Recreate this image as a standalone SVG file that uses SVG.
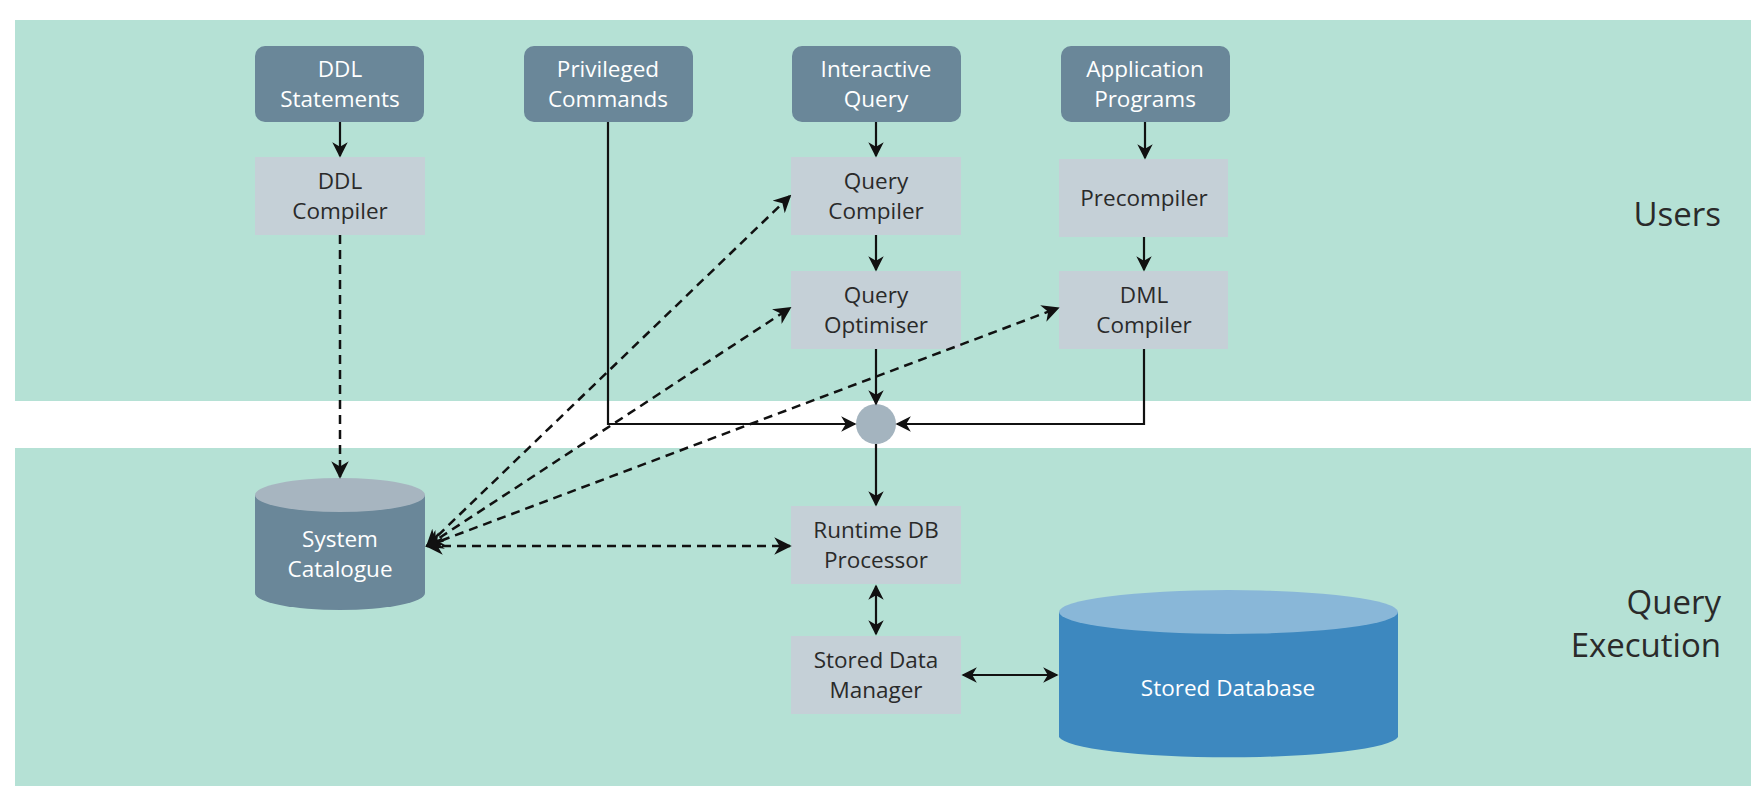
<svg xmlns="http://www.w3.org/2000/svg" width="1755" height="804" viewBox="0 0 1755 804">
<defs>
<marker id="a" viewBox="0 0 10 10" refX="9" refY="5" markerWidth="7" markerHeight="7" orient="auto-start-reverse"><path d="M0,0 L10,5 L0,10 L3,5 z" fill="#111"/></marker>
<style>
.t{font-family:"Open Sans","Noto Sans",sans-serif;font-size:22.5px;text-anchor:middle}
.w{fill:#fff}.k{fill:#2a2a2a}
.dk{fill:#6a8799}.lt{fill:#c5d0d7}
.c{fill:none;stroke:#111;stroke-width:2.2;marker-end:url(#a)}
.d{stroke-dasharray:9,6;stroke-width:2.5}
.b{marker-start:url(#a)}
.big{font-family:"Open Sans","Noto Sans",sans-serif;font-size:33px;fill:#2a2a2a;text-anchor:end}
</style>
</defs>
<rect width="1755" height="804" fill="#fff"/>
<rect x="15" y="20" width="1736" height="381" fill="#b5e1d5"/>
<rect x="15" y="448" width="1736" height="338" fill="#b5e1d5"/>
<text class="big" x="1721" y="226">Users</text>
<text class="big" x="1721" y="614">Query</text>
<text class="big" x="1721" y="657">Execution</text>
<g id="ddlstmt"><rect class="dk" x="255" y="46" width="169" height="76" rx="10"/><text class="t w" x="340" y="77">DDL</text><text class="t w" x="340" y="107">Statements</text></g>
<g id="priv"><rect class="dk" x="524" y="46" width="169" height="76" rx="10"/><text class="t w" x="608" y="77">Privileged</text><text class="t w" x="608" y="107">Commands</text></g>
<g id="inter"><rect class="dk" x="792" y="46" width="169" height="76" rx="10"/><text class="t w" x="876" y="77">Interactive</text><text class="t w" x="876" y="107">Query</text></g>
<g id="app"><rect class="dk" x="1061" y="46" width="169" height="76" rx="10"/><text class="t w" x="1145" y="77">Application</text><text class="t w" x="1145" y="107">Programs</text></g>
<g id="ddlc"><rect class="lt" x="255" y="157" width="170" height="78"/><text class="t k" x="340" y="189">DDL</text><text class="t k" x="340" y="219">Compiler</text></g>
<g id="qc"><rect class="lt" x="791" y="157" width="170" height="78"/><text class="t k" x="876" y="189">Query</text><text class="t k" x="876" y="219">Compiler</text></g>
<g id="pre"><rect class="lt" x="1059" y="159" width="169" height="78"/><text class="t k" x="1144" y="206">Precompiler</text></g>
<g id="qo"><rect class="lt" x="791" y="271" width="170" height="78"/><text class="t k" x="876" y="303">Query</text><text class="t k" x="876" y="333">Optimiser</text></g>
<g id="dml"><rect class="lt" x="1059" y="271" width="169" height="78"/><text class="t k" x="1144" y="303">DML</text><text class="t k" x="1144" y="333">Compiler</text></g>
<g id="join"><circle cx="876" cy="424" r="20" fill="#a4b4bf"/></g>
<g id="rt"><rect class="lt" x="791" y="506" width="170" height="78"/><text class="t k" x="876" y="538">Runtime DB</text><text class="t k" x="876" y="568">Processor</text></g>
<g id="sdm"><rect class="lt" x="791" y="636" width="170" height="78"/><text class="t k" x="876" y="668">Stored Data</text><text class="t k" x="876" y="698">Manager</text></g>
<g id="cat"><path d="M255,495 V593 A85,17 0 0 0 425,593 V495 z" fill="#6a8799"/><ellipse cx="340" cy="495" rx="85" ry="17" fill="#a7b5c0"/><text class="t w" x="340" y="547">System</text><text class="t w" x="340" y="577">Catalogue</text></g>
<g id="db"><path d="M1059,612 V737 A170,22 0 0 0 1398,737 V612 z" fill="#3d88bf"/><ellipse cx="1228.5" cy="612" rx="169.5" ry="22" fill="#89b7d8"/><text class="t w" x="1228" y="696">Stored Database</text></g>
<g id="connectors">
<path class="c" d="M340,122 V156"/>
<path class="c" d="M876,122 V156"/>
<path class="c" d="M1145,122 V158"/>
<path class="c" d="M876,235 V270"/>
<path class="c" d="M1144,237 V270"/>
<path class="c" d="M876,349 V404"/>
<path class="c" d="M608,122 V424 H855"/>
<path class="c" d="M1144,349 V424 H897"/>
<path class="c" d="M876,444 V505"/>
<path class="c b" d="M876,586 V634"/>
<path class="c b" d="M963,675 H1057"/>
<path class="c d" d="M340,235 V477"/>
<path class="c d b" d="M427,546 H790"/>
<path class="c d b" d="M427,546 L790,196"/>
<path class="c d b" d="M427,546 L790,308"/>
<path class="c d b" d="M427,546 L1058,308"/>
</g>
</svg>
